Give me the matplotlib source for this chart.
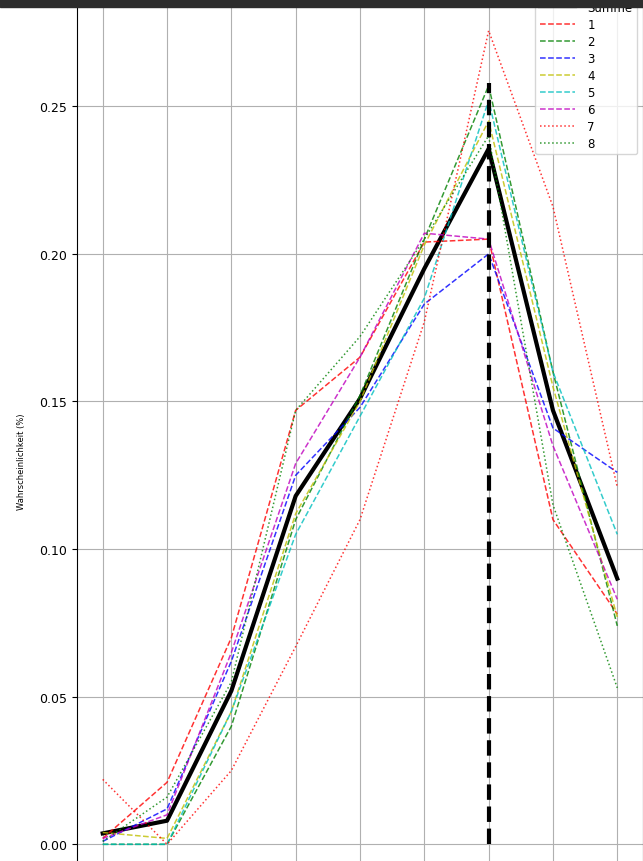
import numpy as np
import matplotlib.pyplot as plt
from matplotlib.patches import Rectangle

x = np.arange(9)

summe = [0.0037, 0.008, 0.052, 0.118, 0.151, 0.195, 0.2356, 0.147, 0.090]
s1 = [0.002, 0.021, 0.070, 0.147, 0.165, 0.204, 0.205, 0.110, 0.078]
s2 = [0.000, 0.000, 0.040, 0.110, 0.152, 0.205, 0.257, 0.160, 0.074]
s3 = [0.001, 0.012, 0.062, 0.125, 0.148, 0.183, 0.200, 0.141, 0.126]
s4 = [0.004, 0.002, 0.045, 0.112, 0.150, 0.203, 0.245, 0.155, 0.077]
s5 = [0.000, 0.000, 0.045, 0.105, 0.145, 0.185, 0.252, 0.160, 0.105]
s6 = [0.002, 0.010, 0.065, 0.129, 0.165, 0.207, 0.205, 0.135, 0.083]
s7 = [0.022, 0.000, 0.025, 0.067, 0.110, 0.177, 0.2756, 0.216, 0.121]
s8 = [0.001, 0.016, 0.055, 0.147, 0.172, 0.205, 0.240, 0.115, 0.053]

peak_x = 6
peak_top = 0.258

fig = plt.figure(figsize=(6.43, 8.62), dpi=100)
ax = fig.add_axes([77/643, -24/862, 566/643, 895/862])

ax.plot(x, summe, color='black', linewidth=3, label='Summe')
ax.plot(x, s1, 'r--', linewidth=1.1, alpha=0.8, label='1')
ax.plot(x, s2, 'g--', linewidth=1.1, alpha=0.8, label='2')
ax.plot(x, s3, 'b--', linewidth=1.1, alpha=0.8, label='3')
ax.plot(x, s4, 'y--', linewidth=1.1, alpha=0.8, label='4')
ax.plot(x, s5, 'c--', linewidth=1.1, alpha=0.8, label='5')
ax.plot(x, s6, 'm--', linewidth=1.1, alpha=0.8, label='6')
ax.plot(x, s7, 'r:', linewidth=1.1, alpha=0.8, label='7')
ax.plot(x, s8, 'g:', linewidth=1.1, alpha=0.8, label='8')
ax.vlines(peak_x, 0, peak_top, colors='black', linestyles='--', linewidth=3)

ax.set_xticks(x)
ax.tick_params(axis='x', labelbottom=False, length=0)
ax.set_yticks([0.0, 0.05, 0.10, 0.15, 0.20, 0.25])
ax.yaxis.set_major_formatter(plt.FormatStrFormatter('%.2f'))
ax.tick_params(axis='y', labelsize=9)
ax.set_ylabel('Wahrscheinlichkeit (%)', fontsize=6)
ax.yaxis.set_label_coords(-0.09, 0.474)
ax.grid(True)
ax.legend(loc='upper right', fontsize=8.5, handlelength=3.0, handletextpad=1.0,
          labelspacing=0.34)

fig.add_artist(Rectangle((0, 1 - 8/862), 1, 8/862, transform=fig.transFigure,
                         color='#2d2d2d', zorder=10))

fig.savefig('out.png', dpi=100)
